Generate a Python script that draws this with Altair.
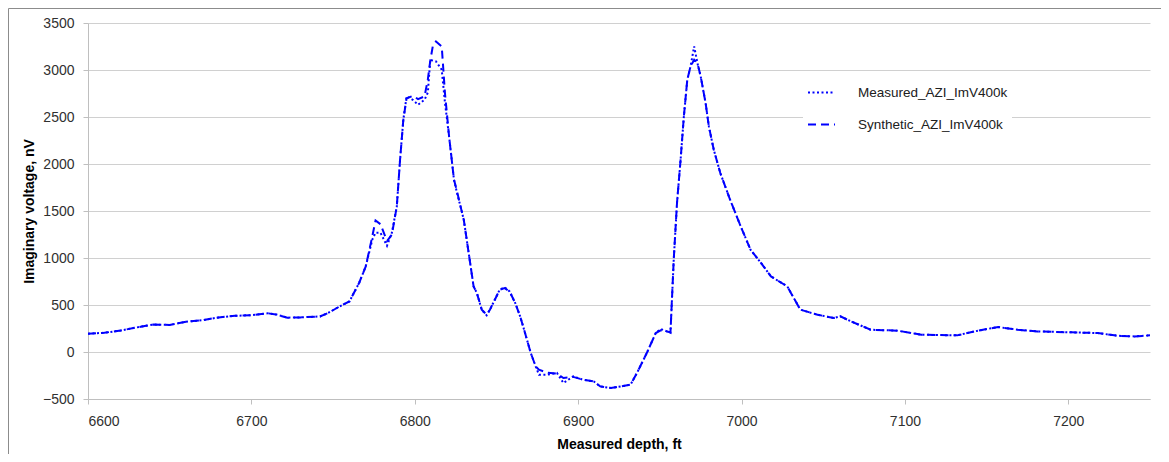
import altair as alt
import pandas as pd

depth = [6600, 6610, 6620, 6630, 6640, 6650, 6660, 6670, 6680, 6690, 6700, 6710, 6715, 6722, 6730,
         6742, 6747, 6754, 6760, 6766, 6770, 6774, 6776, 6779, 6783, 6786, 6789, 6791, 6793, 6795,
         6799, 6802, 6806, 6808, 6809.5, 6811, 6813, 6816.5, 6818.5, 6821, 6824, 6826, 6828, 6830,
         6833, 6836, 6838, 6841, 6844, 6846, 6849, 6852, 6855, 6858, 6861.5, 6864.5, 6867.5, 6871,
         6874, 6876, 6881, 6887, 6891, 6897, 6903, 6909.5, 6913.5, 6920, 6926, 6932, 6936, 6942,
         6947.5, 6950.5, 6956.5, 6958.5, 6960.5, 6962.7, 6964.7, 6966.8, 6968.8, 6971, 6973, 6975,
         6978, 6980, 6983, 6987, 6993, 6999.5, 7005.5, 7012, 7018, 7028, 7036, 7046.5, 7056.5,
         7060.5, 7067, 7079, 7095.5, 7110, 7132, 7142.5, 7157, 7169, 7181, 7202, 7218, 7230,
         7240.5, 7250]

measured = [195, 205, 228, 262, 292, 288, 322, 338, 368, 385, 392, 412, 400, 365, 368,
            378, 415, 485, 538, 737, 911, 1195, 1269, 1269, 1130, 1270, 1549, 2046, 2471, 2719,
            2680, 2630, 2684, 2760, 3110, 3100, 3091, 3003, 2650, 2294, 1833, 1680, 1549, 1407,
            1053, 698, 628, 450, 390, 450, 556, 663, 690, 645, 521, 379, 202, -11,
            -153, -241, -241, -223, -330, -259, -295, -312, -366, -383, -366, -348, -223, -11,
            202, 245, 205, 982, 1585, 2046, 2506, 2897, 3038, 3251, 3074, 2932,
            2649, 2400, 2152, 1904, 1620, 1336, 1088, 946, 804, 698, 450, 397, 361,
            379, 326, 237, 227, 184, 177, 219, 266, 237, 219, 209, 202, 173,
            166, 177]

synthetic = [195, 205, 228, 262, 292, 288, 322, 338, 368, 385, 392, 412, 400, 365, 368,
             378, 415, 485, 538, 737, 911, 1230, 1400, 1360, 1180, 1250, 1549, 2046, 2471, 2700,
             2725, 2690, 2720, 2900, 3100, 3250, 3304, 3251, 2750, 2294, 1833, 1700, 1549, 1407,
             1053, 698, 628, 450, 397, 450, 556, 663, 680, 645, 521, 379, 202, -11,
             -153, -188, -220, -230, -277, -265, -295, -312, -366, -383, -366, -348, -223, -11,
             202, 230, 210, 982, 1585, 2046, 2506, 2897, 3038, 3110, 3074, 2932,
             2649, 2400, 2152, 1904, 1620, 1336, 1088, 946, 804, 698, 450, 397, 361,
             379, 326, 237, 227, 184, 177, 219, 266, 237, 219, 209, 202, 173,
             166, 177]

series_names = ["Measured_AZI_ImV400k", "Synthetic_AZI_ImV400k"]

rows = []
for name, vals in zip(series_names, [measured, synthetic]):
    for d, v in zip(depth, vals):
        rows.append({"depth": d, "value": v, "series": name})
df = pd.DataFrame(rows)

FONT = "Liberation Sans"

lines = alt.Chart(df).mark_line(strokeWidth=2, color="#0000FF", strokeCap="butt").encode(
    x=alt.X("depth:Q", scale=alt.Scale(domain=[6600, 7250], nice=False, zero=False),
            axis=alt.Axis(values=[6600, 6700, 6800, 6900, 7000, 7100, 7200],
                          title="Measured depth, ft", format="d", grid=False,
                          labelPadding=10, titlePadding=9)),
    y=alt.Y("value:Q", scale=alt.Scale(domain=[-500, 3500], nice=False),
            axis=alt.Axis(values=list(range(-500, 3501, 500)), title="Imaginary voltage, nV",
                          format="d", grid=True, labelPadding=9, titlePadding=6)),
    strokeDash=alt.StrokeDash("series:N",
                              scale=alt.Scale(domain=series_names, range=[[2, 2.5], [8, 5]]),
                              legend=alt.Legend(title=None, orient="none", legendX=715, legendY=51,
                                                symbolType="stroke", symbolSize=729,
                                                symbolStrokeWidth=2, symbolStrokeColor="#0000FF",
                                                labelFont=FONT, labelFontSize=13.5, labelColor="#202020",
                                                labelOffset=22, rowPadding=11, padding=4,
                                                fillColor="white", labelLimit=300)),
    detail="series:N",
    order="depth:Q",
)

frame_left = alt.Chart().mark_rule(color="#8c8c8c", strokeWidth=1).encode(
    x=alt.value(-79.5), y=alt.value(-14.5), y2=alt.value(431)
)
frame_top = alt.Chart().mark_rule(color="#8c8c8c", strokeWidth=1).encode(
    x=alt.value(-79.5), x2=alt.value(1073), y=alt.value(-14.5)
)

chart = alt.layer(frame_left, frame_top, lines).properties(
    width=1062, height=376,
    padding={"left": 80, "top": 15, "right": 11, "bottom": 55},
    autosize=alt.AutoSizeParams(type="none"),
).configure_view(stroke=None).configure_axis(
    labelFont=FONT, labelFontSize=14, labelColor="#303030",
    titleFont=FONT, titleFontSize=14, titleFontWeight="bold", titleColor="#000000",
    domainColor="#bfbfbf", tickColor="#bfbfbf", gridColor="#d0d0d0", tickSize=5,
)

chart.save("out.html", embed_options={"renderer": "svg", "actions": False})
